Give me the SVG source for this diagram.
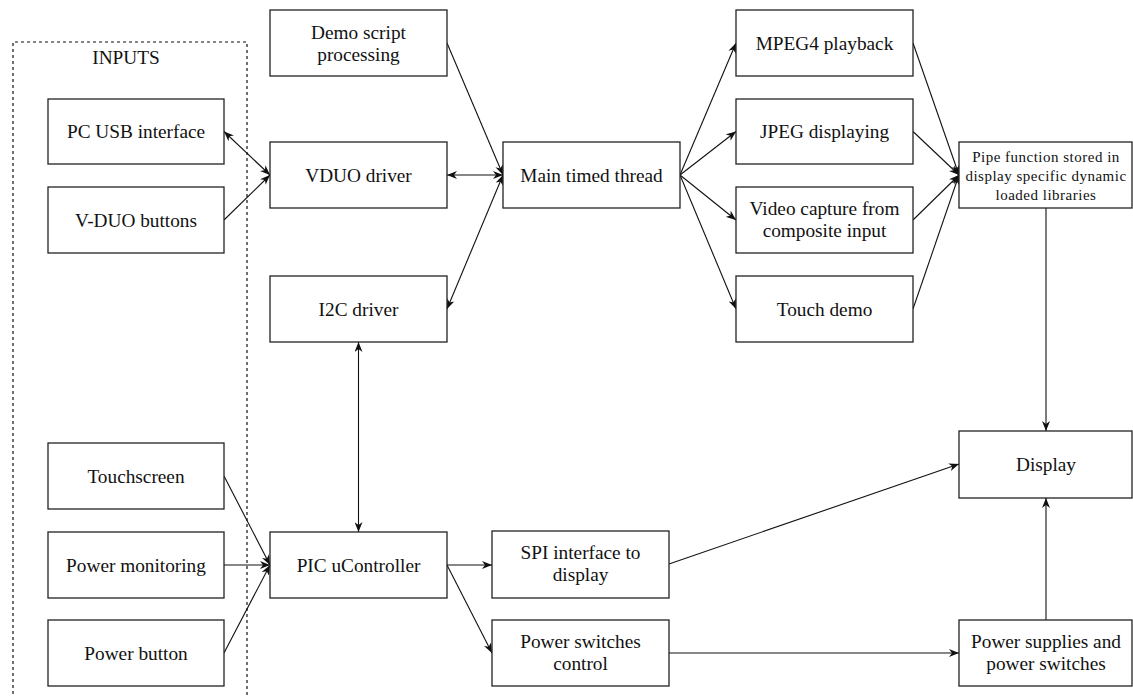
<svg xmlns="http://www.w3.org/2000/svg" width="1133" height="696" viewBox="0 0 1133 696">
<defs>
<style>
.box{fill:#fff;stroke:#222;stroke-width:1.3}
.t{font-family:"Liberation Serif","Times New Roman",serif;font-size:19.3px;fill:#111;text-anchor:middle}
.ts{font-family:"Liberation Serif","Times New Roman",serif;font-size:15px;letter-spacing:0.5px;fill:#111;text-anchor:middle}
.c{fill:none;stroke:#111;stroke-width:1.1}
.dash{fill:none;stroke:#111;stroke-width:1.2;stroke-dasharray:3,3}
</style>
<marker id="ah" viewBox="0 0 10 8" refX="10" refY="4" markerWidth="10" markerHeight="8" markerUnits="userSpaceOnUse" orient="auto-start-reverse">
<path d="M0,0 L10,4 L0,8 L3,4 z" fill="#111"/>
</marker>
</defs>
<rect width="1133" height="696" fill="#fff"/>
<path class="dash" d="M13,700 V42 H247 V700"/>
<text class="t" x="126" y="64">INPUTS</text>

<g id="connectors">
<line class="c" x1="224" y1="131.5" x2="270" y2="175" marker-start="url(#ah)" marker-end="url(#ah)"/>
<line class="c" x1="224" y1="220" x2="270" y2="175" marker-end="url(#ah)"/>
<line class="c" x1="447" y1="43" x2="503" y2="175" marker-end="url(#ah)"/>
<line class="c" x1="447" y1="175" x2="503" y2="175" marker-start="url(#ah)" marker-end="url(#ah)"/>
<line class="c" x1="503" y1="175" x2="447" y2="309" marker-start="url(#ah)" marker-end="url(#ah)"/>
<line class="c" x1="358.5" y1="342" x2="358.5" y2="532" marker-start="url(#ah)" marker-end="url(#ah)"/>
<line class="c" x1="680" y1="175" x2="736" y2="43" marker-end="url(#ah)"/>
<line class="c" x1="680" y1="175" x2="736" y2="131.5" marker-end="url(#ah)"/>
<line class="c" x1="680" y1="175" x2="736" y2="220" marker-end="url(#ah)"/>
<line class="c" x1="680" y1="175" x2="736" y2="309" marker-end="url(#ah)"/>
<line class="c" x1="913" y1="43" x2="959" y2="175" marker-end="url(#ah)"/>
<line class="c" x1="913" y1="131.5" x2="959" y2="175" marker-end="url(#ah)"/>
<line class="c" x1="913" y1="220" x2="959" y2="175" marker-end="url(#ah)"/>
<line class="c" x1="913" y1="309" x2="959" y2="175" marker-end="url(#ah)"/>
<line class="c" x1="1046" y1="208" x2="1046" y2="431" marker-end="url(#ah)"/>
<line class="c" x1="224" y1="476" x2="270" y2="565" marker-end="url(#ah)"/>
<line class="c" x1="224" y1="565" x2="270" y2="565" marker-end="url(#ah)"/>
<line class="c" x1="224" y1="653" x2="270" y2="565" marker-end="url(#ah)"/>
<line class="c" x1="447" y1="565" x2="492" y2="565" marker-end="url(#ah)"/>
<line class="c" x1="447" y1="565" x2="492" y2="653" marker-end="url(#ah)"/>
<line class="c" x1="669" y1="564" x2="959" y2="464" marker-end="url(#ah)"/>
<line class="c" x1="669" y1="653" x2="959" y2="653" marker-end="url(#ah)"/>
<line class="c" x1="1046" y1="620" x2="1046" y2="498" marker-end="url(#ah)"/>
</g>

<g id="pc-usb"><rect class="box" x="48" y="99" width="176" height="65"/><text class="t" x="136" y="138">PC USB interface</text></g>
<g id="vduo-buttons"><rect class="box" x="48" y="187" width="176" height="66"/><text class="t" x="136" y="227">V-DUO buttons</text></g>
<g id="touchscreen"><rect class="box" x="48" y="443" width="176" height="66"/><text class="t" x="136" y="483">Touchscreen</text></g>
<g id="power-monitoring"><rect class="box" x="48" y="532" width="176" height="66"/><text class="t" x="136" y="572">Power monitoring</text></g>
<g id="power-button"><rect class="box" x="48" y="620" width="176" height="66"/><text class="t" x="136" y="660">Power button</text></g>

<g id="demo-script"><rect class="box" x="270" y="10" width="177" height="66"/><text class="t" x="358.5" y="39">Demo script</text><text class="t" x="358.5" y="61">processing</text></g>
<g id="vduo-driver"><rect class="box" x="270" y="142" width="177" height="66"/><text class="t" x="358.5" y="182">VDUO driver</text></g>
<g id="i2c-driver"><rect class="box" x="270" y="276" width="177" height="66"/><text class="t" x="358.5" y="316">I2C driver</text></g>
<g id="pic"><rect class="box" x="270" y="532" width="177" height="66"/><text class="t" x="358.5" y="572">PIC uController</text></g>

<g id="main-thread"><rect class="box" x="503" y="142" width="177" height="66"/><text class="t" x="591.5" y="182">Main timed thread</text></g>
<g id="spi"><rect class="box" x="492" y="531" width="177" height="67"/><text class="t" x="580.5" y="559">SPI interface to</text><text class="t" x="580.5" y="581">display</text></g>
<g id="power-switches-control"><rect class="box" x="492" y="620" width="177" height="66"/><text class="t" x="580.5" y="648">Power switches</text><text class="t" x="580.5" y="670">control</text></g>

<g id="mpeg4"><rect class="box" x="736" y="10" width="177" height="66"/><text class="t" x="824.5" y="50">MPEG4 playback</text></g>
<g id="jpeg"><rect class="box" x="736" y="99" width="177" height="65"/><text class="t" x="824.5" y="138">JPEG displaying</text></g>
<g id="video-capture"><rect class="box" x="736" y="187" width="177" height="66"/><text class="t" x="824.5" y="215">Video capture from</text><text class="t" x="824.5" y="237">composite input</text></g>
<g id="touch-demo"><rect class="box" x="736" y="276" width="177" height="66"/><text class="t" x="824.5" y="316">Touch demo</text></g>

<g id="pipe"><rect class="box" x="959" y="142" width="173" height="66"/><text class="ts" x="1046" y="162">Pipe function stored in</text><text class="ts" x="1046" y="181">display specific dynamic</text><text class="ts" x="1046" y="200">loaded libraries</text></g>
<g id="display"><rect class="box" x="959" y="431" width="173" height="67"/><text class="t" x="1046" y="471">Display</text></g>
<g id="power-supplies"><rect class="box" x="959" y="620" width="173" height="66"/><text class="t" x="1046" y="648">Power supplies and</text><text class="t" x="1046" y="670">power switches</text></g>
</svg>
